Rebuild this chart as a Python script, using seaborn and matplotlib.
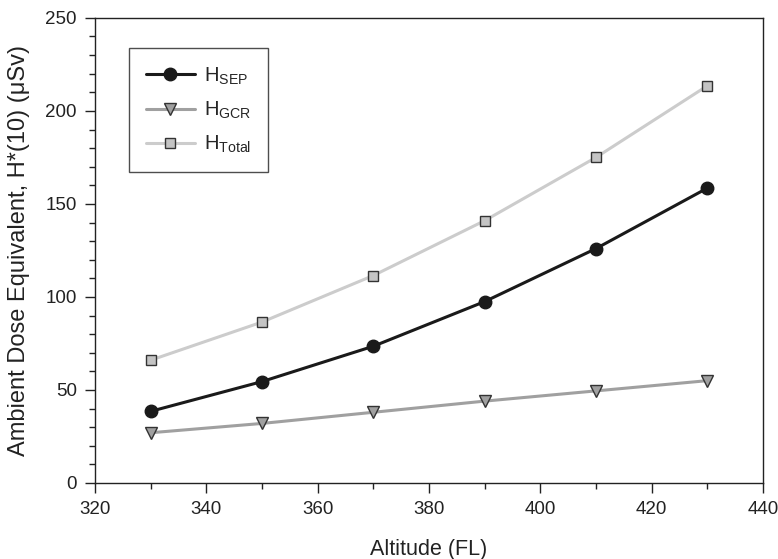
import matplotlib
matplotlib.use("Agg")
import matplotlib.pyplot as plt
import seaborn as sns
import pandas as pd
from matplotlib.ticker import MultipleLocator

altitude = [330, 350, 370, 390, 410, 430]
h_sep = [38.5, 54.5, 73.5, 97.5, 126.0, 158.5]
h_gcr = [27.0, 32.0, 38.0, 44.0, 49.5, 55.0]
h_total = [66.0, 86.5, 111.5, 141.0, 175.0, 213.5]
series_names = ["SEP", "GCR", "Total"]

sns.set_theme(style="ticks")
plt.rcParams["font.family"] = ["Liberation Sans", "DejaVu Sans"]
plt.rcParams["mathtext.fontset"] = "custom"
plt.rcParams["mathtext.rm"] = "Liberation Sans"
plt.rcParams["mathtext.it"] = "Liberation Sans"

fig = plt.figure(figsize=(7.78, 5.59), dpi=100)
ax = fig.add_axes([0.1221, 0.136, 0.8586, 0.832])

df = pd.DataFrame({"alt": altitude * 3,
                   "val": h_sep + h_gcr + h_total,
                   "s": [n for n in series_names for _ in altitude]})

styles = {
    "SEP": dict(color="#1a1a1a", marker="o", ms=9, mfc="#1a1a1a", mec="#1a1a1a", lw=2.2),
    "GCR": dict(color="#a0a0a0", marker="v", ms=8, mfc="#a0a0a0", mec="#333333", lw=2.2),
    "Total": dict(color="#cccccc", marker="s", ms=7, mfc="#c4c4c4", mec="#333333", lw=2.2),
}
for name in series_names:
    st = styles[name]
    sub = df[df["s"] == name]
    sns.lineplot(data=sub, x="alt", y="val", ax=ax, color=st["color"], lw=st["lw"],
                 marker=st["marker"], markersize=st["ms"], markerfacecolor=st["mfc"],
                 markeredgecolor=st["mec"], markeredgewidth=1.0,
                 label=r"H$_{\mathregular{%s}}$" % name, zorder=3)

ax.set_xlim(320, 440)
ax.set_ylim(0, 250)
ax.xaxis.set_major_locator(MultipleLocator(20))
ax.xaxis.set_minor_locator(MultipleLocator(10))
ax.yaxis.set_major_locator(MultipleLocator(50))
ax.yaxis.set_minor_locator(MultipleLocator(10))
ax.tick_params(axis="both", which="major", direction="out", length=7, width=1, pad=6,
               labelsize=13.5, colors="#222222", labelcolor="#222222")
ax.tick_params(axis="both", which="minor", direction="out", length=4, width=1, colors="#222222")
for sp in ax.spines.values():
    sp.set_color("#222222")
    sp.set_linewidth(1.0)
    sp.set_visible(True)

ax.set_xlabel("Altitude (FL)", fontsize=15.5, color="#222222", labelpad=15)
ax.set_ylabel("Ambient Dose Equivalent, H*(10) (μSv)", fontsize=17, color="#222222", labelpad=11)

leg = ax.legend(loc="upper left", bbox_to_anchor=(0.051, 0.935), frameon=True, fancybox=False,
                edgecolor="#222222", fontsize=14.5, handlelength=2.4, borderpad=0.85,
                labelspacing=0.65, handletextpad=0.45, borderaxespad=0)
leg.get_frame().set_linewidth(1.0)

fig.savefig("out.png", dpi=100)
